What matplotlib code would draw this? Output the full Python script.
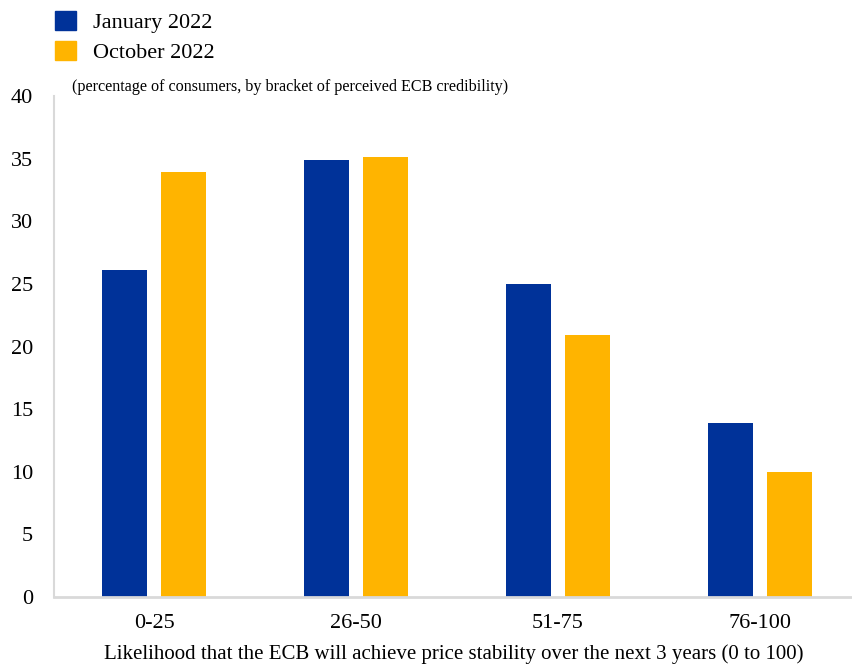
import matplotlib
matplotlib.use("Agg")
import matplotlib.pyplot as plt
from matplotlib.patches import Patch
import numpy as np

plt.rcParams['font.family'] = ['Liberation Serif', 'DejaVu Serif']

brackets = ["0-25", "26-50", "51-75", "76-100"]
jan_2022 = [26.1, 34.9, 25.0, 13.9]
oct_2022 = [33.9, 35.1, 20.9, 10.0]
series_names = ["January 2022", "October 2022"]
yticks = [0, 5, 10, 15, 20, 25, 30, 35, 40]

blue = "#003299"
yellow = "#ffb400"

fig = plt.figure(figsize=(8.53, 6.64), dpi=100)
ax = fig.add_axes([54 / 853, 1 - 597 / 664, 799 / 853, (597 - 96) / 664])

x = np.arange(len(brackets))
w = 0.223
off = 0.146
ax.bar(x - off, jan_2022, width=w, color=blue)
ax.bar(x + off, oct_2022, width=w, color=yellow)

ax.set_xlim(-0.495, 3.46)
ax.set_ylim(0, 40)
ax.set_yticks(yticks)
ax.set_xticks(x)
ax.set_xticklabels(brackets)
ax.tick_params(axis='y', length=0, pad=15, labelsize=16)
ax.tick_params(axis='x', length=0, pad=12, labelsize=16)

for s in ["top", "right"]:
    ax.spines[s].set_visible(False)
ax.spines["left"].set_color("#d9d9d9")
ax.spines["left"].set_linewidth(1.5)
ax.spines["bottom"].set_color("#d9d9d9")
ax.spines["bottom"].set_linewidth(2)

ax.set_xlabel("Likelihood that the ECB will achieve price stability over the next 3 years (0 to 100)",
              fontsize=15, labelpad=8)

fig.text(72 / 853, 1 - 87 / 664,
         "(percentage of consumers, by bracket of perceived ECB credibility)",
         fontsize=11.6, va="center", ha="left")

handles = [Patch(color=blue), Patch(color=yellow)]
fig.legend(handles, series_names, loc="upper left",
           bbox_to_anchor=(55 / 853, 1 - 11 / 664), frameon=False,
           fontsize=16, handlelength=0.95, handleheight=0.95,
           handletextpad=0.75, labelspacing=0.35, borderpad=0, borderaxespad=0)

fig.savefig("out.png", dpi=100)
